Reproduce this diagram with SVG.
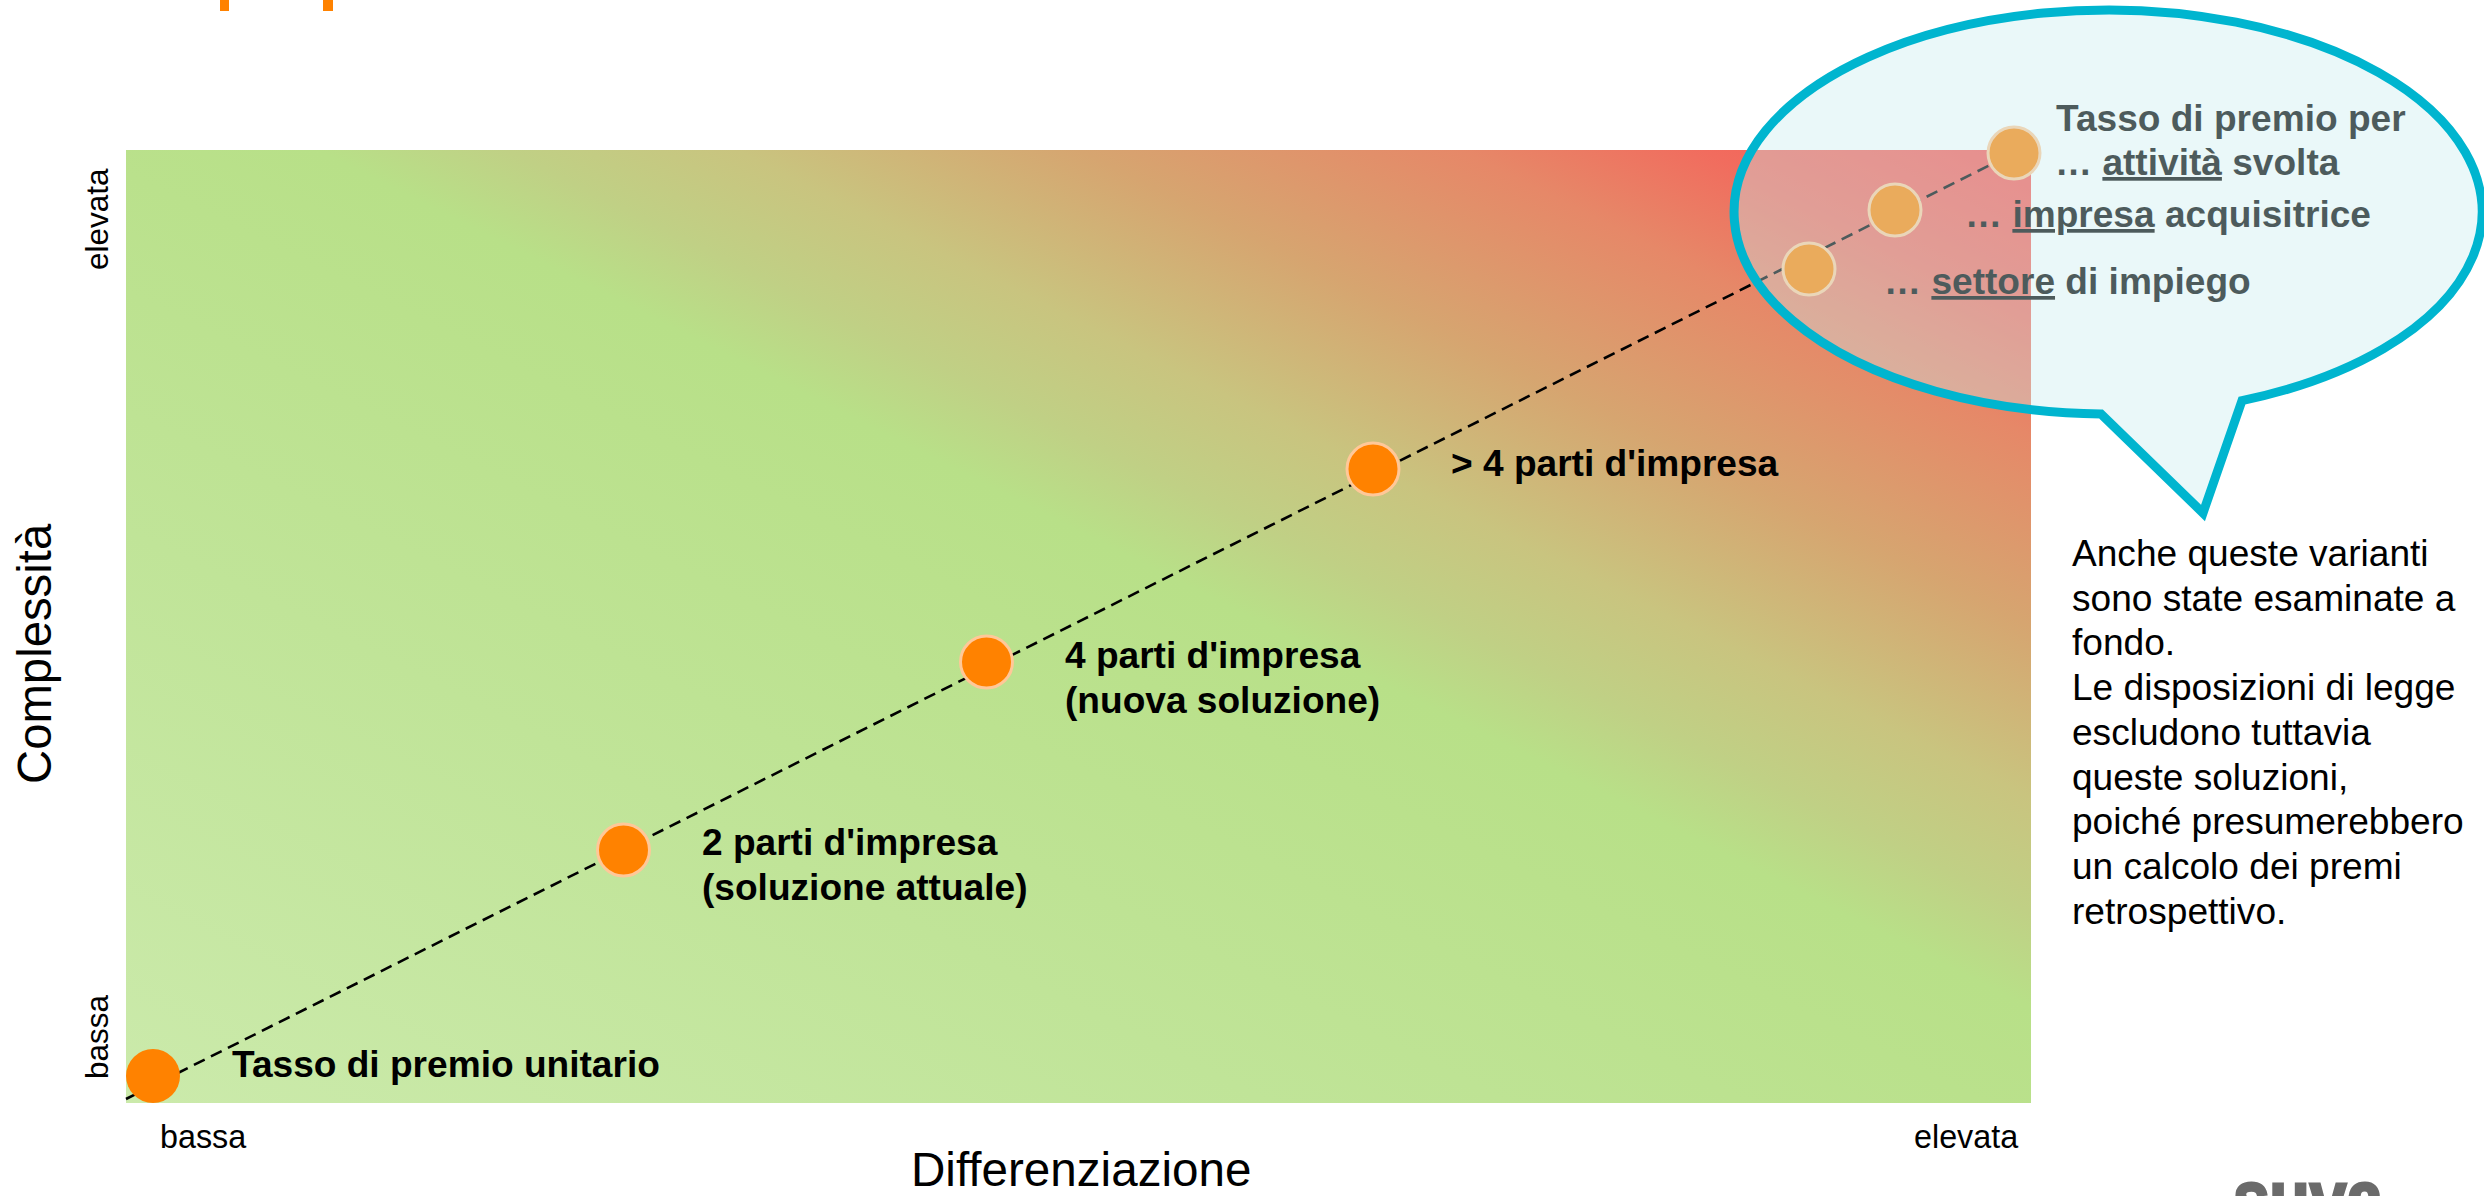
<svg xmlns="http://www.w3.org/2000/svg" width="2484" height="1196" viewBox="0 0 2484 1196">
<defs>
<linearGradient id="bg" x1="0" y1="1" x2="1" y2="0">
<stop offset="0" stop-color="#cbeaab"/><stop offset="0.3" stop-color="#c0e498"/><stop offset="0.55" stop-color="#b8e088"/><stop offset="0.6" stop-color="#c0d085"/><stop offset="0.66" stop-color="#c9c47f"/><stop offset="0.75" stop-color="#d6a570"/><stop offset="0.85" stop-color="#e68868"/><stop offset="0.914" stop-color="#f16c5e"/><stop offset="1" stop-color="#fb5351"/>
</linearGradient>
</defs>
<style>
text{font-family:"Liberation Sans",Arial,sans-serif;fill:#000}
.b{font-size:37.1px;font-weight:700}
.n{font-size:37.1px}
.s{font-size:32.3px}
.r{font-size:31.5px}
.a{font-size:47.3px}
.dot{fill:#ff8200;stroke:#ffc898;stroke-width:3}
</style>
<rect width="2484" height="1196" fill="#fff"/>
<rect x="220" y="0" width="9" height="11" fill="#ff8200"/>
<rect x="323" y="0" width="10" height="11" fill="#ff8200"/>
<rect id="matrix" x="126" y="150" width="1905" height="953" fill="url(#bg)"/>
<g id="connectors"><line x1="126" y1="1099" x2="2014" y2="153" stroke="#000" stroke-width="2.6" stroke-dasharray="12 7"/></g>
<g id="axes">
<text class="a" transform="translate(51 784) rotate(-90)">Complessità</text>
<text class="a" style="font-size:47.6px" x="911" y="1186">Differenziazione</text>
<text class="r" transform="translate(108 270) rotate(-90)">elevata</text>
<text class="r" transform="translate(108 1079) rotate(-90)">bassa</text>
<text class="s" x="160" y="1148">bassa</text>
<text class="s" x="1914" y="1148">elevata</text>
</g>
<g id="n1"><circle cx="153" cy="1076" r="27" fill="#ff8200"/><text class="b" x="232" y="1077">Tasso di premio unitario</text></g>
<g id="n2"><circle class="dot" cx="623.5" cy="850" r="26"/><text class="b" x="702" y="855">2 parti d'impresa</text><text class="b" x="702" y="900">(soluzione attuale)</text></g>
<g id="n3"><circle class="dot" cx="986.5" cy="662" r="26"/><text class="b" x="1065" y="668">4 parti d'impresa</text><text class="b" x="1065" y="713">(nuova soluzione)</text></g>
<g id="n4"><circle class="dot" cx="1373" cy="469" r="26"/><text class="b" x="1451" y="476">&gt; 4 parti d'impresa</text></g>
<g id="n5"><circle class="dot" cx="1809" cy="269" r="26"/><text class="b" x="1884" y="294">… <tspan text-decoration="underline">settore</tspan> di impiego</text></g>
<g id="n6"><circle class="dot" cx="1895" cy="210" r="26"/><text class="b" x="1965" y="227">… <tspan text-decoration="underline">impresa</tspan> acquisitrice</text></g>
<g id="n7"><circle class="dot" cx="2014" cy="153" r="26"/><text class="b" x="2056" y="131">Tasso di premio per</text><text class="b" x="2055" y="175">… <tspan text-decoration="underline">attività</tspan> svolta</text></g>
<g id="bubble"><path d="M2242 400.6A374 202 0 1 0 2101 413.96L2203 513Z" fill="#c8edf0" fill-opacity=".384" stroke="#00b5cf" stroke-width="9" stroke-linejoin="miter"/></g>
<g id="note">
<text class="n" x="2072" y="566">Anche queste varianti</text>
<text class="n" x="2072" y="610.7">sono state esaminate a</text>
<text class="n" x="2072" y="655.4">fondo.</text>
<text class="n" x="2072" y="700.1">Le disposizioni di legge</text>
<text class="n" x="2072" y="744.8">escludono tuttavia</text>
<text class="n" x="2072" y="789.5">queste soluzioni,</text>
<text class="n" x="2072" y="834.2">poiché presumerebbero</text>
<text class="n" x="2072" y="878.9">un calcolo dei premi</text>
<text class="n" x="2072" y="923.6">retrospettivo.</text>
</g>
<text x="2233" y="1225" font-size="78" font-weight="700" textLength="150" lengthAdjust="spacingAndGlyphs" style="fill:#6b6b6b;stroke:#6b6b6b;stroke-width:3">suva</text>
</svg>
